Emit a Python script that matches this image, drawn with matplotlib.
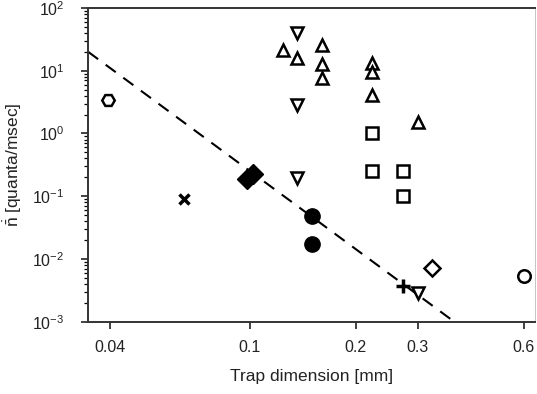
import matplotlib
matplotlib.use("Agg")
import matplotlib.pyplot as plt
import numpy as np
from matplotlib.ticker import FixedLocator, FixedFormatter, LogLocator, NullFormatter

plt.rcParams['font.family'] = ['Liberation Sans', 'DejaVu Sans']
plt.rcParams['mathtext.fontset'] = 'custom'
plt.rcParams['mathtext.rm'] = 'Liberation Sans'
plt.rcParams['mathtext.it'] = 'Liberation Sans:italic'

# data: x [mm], y [quanta/msec]
hex_x = [0.0395]; hex_y = [3.4]
cross_x = [0.065]; cross_y = [0.091]
fdiam_x = [0.098, 0.102]; fdiam_y = [0.19, 0.23]
fcirc_x = [0.15, 0.15]; fcirc_y = [0.049, 0.0175]
down_x = [0.136, 0.136, 0.136, 0.30]; down_y = [40, 2.85, 0.196, 0.0029]
up_x = [0.124, 0.136, 0.16, 0.16, 0.16, 0.222, 0.222, 0.222, 0.30]
up_y = [21.5, 16, 25.8, 12.8, 7.7, 13.3, 9.6, 4.1, 1.53]
sq_x = [0.222, 0.222, 0.272, 0.272]; sq_y = [1.02, 0.25, 0.25, 0.1]
odiam_x = [0.33]; odiam_y = [0.0073]
plus_x = [0.272]; plus_y = [0.0037]
ocirc_x = [0.6]; ocirc_y = [0.0054]

# dashed power-law line: y = fit_a * x ** fit_b
fit_a = 20 * 0.0347 ** 4.13
fit_b = -4.13
fit_xrange = [0.0347, 0.382]

fig = plt.figure(figsize=(5.37, 3.94), dpi=100)
ax = fig.add_axes([0.164, 0.183, 0.832, 0.797])

xl = np.geomspace(fit_xrange[0], fit_xrange[1], 50)
ax.plot(xl, fit_a * xl ** fit_b, 'k--', lw=1.5, dashes=(6, 4.5))

kw = dict(ls='none', color='k', mew=1.8, ms=9)
ax.plot(hex_x, hex_y, marker='H', mfc='white', **kw)
ax.plot(cross_x, cross_y, marker='x', ms=7, mew=2.5, ls='none', color='k')
ax.plot(fdiam_x, fdiam_y, marker='D', mfc='k', ls='none', color='k', ms=10)
ax.plot(fcirc_x, fcirc_y, marker='o', mfc='k', ls='none', color='k', ms=11)
ax.plot(down_x, down_y, marker='v', mfc='white', **kw)
ax.plot(up_x, up_y, marker='^', mfc='white', **kw)
ax.plot(sq_x, sq_y, marker='s', mfc='white', ls='none', color='k', mew=1.8, ms=8)
ax.plot(odiam_x, odiam_y, marker='D', mfc='white', ls='none', color='k', mew=1.8, ms=8)
ax.plot(plus_x, plus_y, marker='+', ls='none', color='k', mew=2.5, ms=10)
ax.plot(ocirc_x, ocirc_y, marker='o', mfc='white', **kw)

ax.set_xscale('log')
ax.set_yscale('log')
ax.set_xlim(0.0347, 0.646)
ax.set_ylim(1e-3, 1e2)

xticks = [0.04, 0.1, 0.2, 0.3, 0.6]
xlabels = ['0.04', '0.1', '0.2', '0.3', '0.6']
ax.xaxis.set_major_locator(FixedLocator(xticks))
ax.xaxis.set_major_formatter(FixedFormatter(xlabels))
ax.xaxis.set_minor_locator(FixedLocator([]))
ax.yaxis.set_major_locator(LogLocator(base=10, numticks=10))
ax.yaxis.set_minor_locator(LogLocator(base=10, subs=np.arange(2, 10), numticks=10))
ax.yaxis.set_minor_formatter(NullFormatter())

ax.tick_params(axis='both', which='major', direction='out', length=5, width=1.2,
               labelsize=11.5, colors='#222222')
ax.tick_params(axis='y', which='minor', direction='out', length=3, width=0.9)
ax.tick_params(axis='x', pad=8)
ax.tick_params(axis='y', pad=12)
for s in ['left', 'bottom', 'top']:
    ax.spines[s].set_linewidth(1.4)
    ax.spines[s].set_color('#333333')
ax.spines['right'].set_linewidth(0.6)
ax.spines['right'].set_color('#bbbbbb')

ax.set_xlabel('Trap dimension [mm]', fontsize=12.5, labelpad=10, color='#222222')
ax.set_ylabel(r'$\dot{\bar{\mathrm{n}}}$ [quanta/msec]', fontsize=12.5, labelpad=6,
              color='#222222')

fig.savefig('out.png', dpi=100)
